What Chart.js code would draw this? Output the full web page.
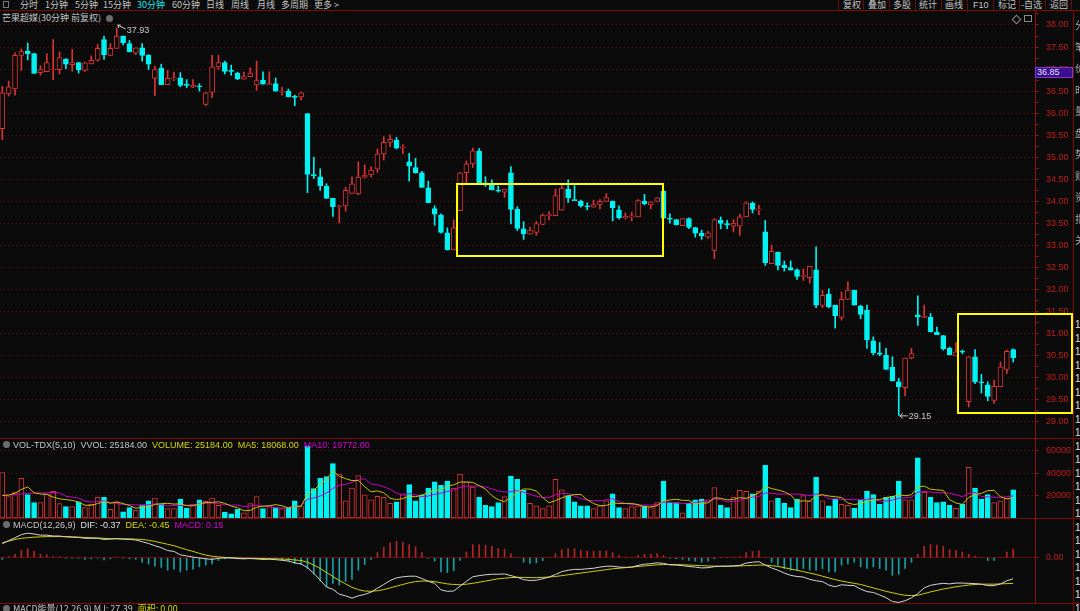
<!DOCTYPE html>
<html><head><meta charset="utf-8">
<script src="https://cdn.jsdelivr.net/npm/chart.js@4.4.0/dist/chart.umd.min.js"></script>
<style>
html,body{margin:0;padding:0;background:#0b0b0b;}
#root{position:relative;width:1080px;height:611px;overflow:hidden;background:#0b0b0b;font-family:"Noto Sans CJK SC","Liberation Sans",sans-serif;color:#c4c4c4;}
.t{position:absolute;white-space:nowrap;font-size:9px;line-height:10px;}
.n{font-family:"Liberation Sans",Arial,sans-serif;}
.lg span{margin-right:5px;}
.hl{position:absolute;left:0;width:1080px;height:1px;background:#7a0c0c;}
.vl{position:absolute;top:0;width:1px;height:10px;background:#6a0a0a;}
canvas{position:absolute;left:0;}
.box{position:absolute;border:2px solid #ffff00;box-sizing:border-box;}
.ic{position:absolute;width:7px;height:7px;border-radius:50%;background:#6e6e6e;}
</style></head><body><div id="root">

<!-- toolbar -->
<div class="t" style="left:3px;top:1px;width:6px;height:7px;border:1px solid #777;box-sizing:border-box;"></div>
<div class="t" style="left:20px;top:0">分时</div>
<div class="t" style="left:45px;top:0">1分钟</div>
<div class="t" style="left:75px;top:0">5分钟</div>
<div class="t" style="left:103px;top:0">15分钟</div>
<div class="t" style="left:137px;top:0;color:#19e6e6">30分钟</div>
<div class="t" style="left:172px;top:0">60分钟</div>
<div class="t" style="left:206px;top:0">日线</div>
<div class="t" style="left:231px;top:0">周线</div>
<div class="t" style="left:257px;top:0">月线</div>
<div class="t" style="left:281px;top:0">多周期</div>
<div class="t" style="left:314px;top:0">更多 &gt;</div>

<div class="vl" style="left:838px"></div><div class="vl" style="left:863px"></div><div class="vl" style="left:889px"></div>
<div class="vl" style="left:915px"></div><div class="vl" style="left:941px"></div><div class="vl" style="left:967px"></div>
<div class="vl" style="left:993px"></div><div class="vl" style="left:1019px"></div><div class="vl" style="left:1045px"></div><div class="vl" style="left:1071px"></div>
<div class="t" style="left:843px;top:0">复权</div>
<div class="t" style="left:868px;top:0">叠加</div>
<div class="t" style="left:893px;top:0">多股</div>
<div class="t" style="left:919px;top:0">统计</div>
<div class="t" style="left:945px;top:0">画线</div>
<div class="t n" style="left:973px;top:0">F10</div>
<div class="t" style="left:998px;top:0">标记</div>
<div class="t" style="left:1021px;top:0">-自选</div>
<div class="t" style="left:1050px;top:0">返回</div>
<div class="hl" style="top:10px"></div>

<!-- title -->
<div class="t" style="left:2px;top:13px">芒果超媒(30分钟 前复权)</div>
<div class="ic" style="left:106px;top:15px"></div>
<div class="t" style="left:1013px;top:16px;width:5px;height:5px;border:1px solid #8a8a8a;transform:rotate(45deg);"></div>
<div class="t" style="left:1024px;top:15px;width:8px;height:7px;border:1px solid #8a8a8a;box-sizing:border-box;"></div>

<canvas id="cMain" width="1073" height="428" style="top:10px"></canvas>
<canvas id="cVol" width="1073" height="80" style="top:438px"></canvas>
<canvas id="cMacd" width="1073" height="85" style="top:518px"></canvas>

<div class="hl" style="top:438px"></div>
<div class="hl" style="top:518px"></div>
<div class="hl" style="top:603px"></div>

<!-- current price tag -->
<div class="t n" style="left:1035px;top:67px;width:38px;height:11px;background:#3a1090;border:1px solid #7a3cc8;box-sizing:border-box;color:#e4dcff;line-height:9px;padding-left:1px;">36.85</div>

<!-- volume legend -->
<div class="ic" style="left:3px;top:441px"></div>
<div class="t n lg" style="left:13px;top:440px"><span>VOL-TDX(5,10)</span><span>VVOL: 25184.00</span><span style="color:#d8d800">VOLUME: 25184.00</span><span style="color:#d8d800">MA5: 18068.00</span><span style="color:#d800d8">MA10: 19772.00</span></div>

<!-- macd legend -->
<div class="ic" style="left:3px;top:521px"></div>
<div class="t n lg" style="left:13px;top:520px"><span>MACD(12,26,9)</span><span style="color:#e0e0e0">DIF: -0.37</span><span style="color:#d8d800">DEA: -0.45</span><span style="color:#d800d8">MACD: 0.15</span></div>

<div class="ic" style="left:3px;top:605px"></div>
<div class="t lg" style="left:13px;top:604px"><span>MACD能量(12,26,9) MJ: 27.39</span><span style="color:#d8d800">面积: 0.00</span></div>

<!-- right side strip -->
<div style="position:absolute;left:1073px;top:10px;width:1px;height:601px;background:#7a0c0c"></div>
<div class="t" style="left:1075px;top:14px;font-size:10px;line-height:21.5px;white-space:normal;width:12px;color:#a6a6a6">分笔价时量盘势财资指关</div>
<div class="t n" style="left:1075px;top:318px;font-size:10px;line-height:13.5px;white-space:normal;width:6px;color:#e0e0e0">1 1 1 1 1 1 1 1 1 1 1 1 1 1 1 1 1 1 1 1 1 1</div>

<!-- highlight boxes -->
<div class="box" style="left:456px;top:183px;width:208px;height:74px"></div>
<div class="box" style="left:957px;top:313px;width:116px;height:101px"></div>

</div>
<script>
// ---------------- data ----------------
const barNo = [...Array(160).keys()];
const open = [
35.65,36.44,36.55,37.31,37.41,37.35,36.92,36.94,36.98,36.99,
37.23,37.10,37.15,36.97,37.12,37.20,37.67,37.31,37.47,37.75,
37.58,37.36,37.48,37.31,36.79,37.02,36.65,36.78,36.80,36.64,
36.59,36.61,36.20,36.47,37.05,37.15,36.97,36.91,36.77,36.83,
36.64,36.75,36.65,36.67,36.48,36.50,36.37,36.37,35.99,34.61,
34.56,34.34,34.07,33.88,33.90,34.18,34.17,34.55,34.60,34.73,
35.08,35.34,35.39,35.21,34.90,34.77,34.65,34.31,33.84,33.69,
33.29,32.90,33.79,34.65,34.85,35.14,34.42,34.38,34.25,34.21,
34.65,33.82,33.38,33.26,33.30,33.48,33.68,33.68,33.80,34.28,
34.04,34.00,33.90,33.87,33.93,34.00,34.01,33.81,33.63,33.65,
33.65,34.01,33.92,34.00,34.23,33.62,33.59,33.45,33.61,33.41,
33.28,33.19,32.89,33.57,33.50,33.44,33.44,33.65,33.96,33.81,
33.31,32.59,32.85,32.55,32.50,32.45,32.30,32.27,32.45,31.64,
31.90,31.65,31.37,31.78,31.99,31.63,31.53,30.84,30.57,30.51,
30.24,29.91,29.78,30.45,31.43,31.37,31.37,31.03,30.96,30.67,
30.50,30.61,29.46,30.48,29.91,29.84,29.49,29.80,30.19,30.64];
const high = [
36.61,36.73,37.37,37.46,37.59,37.36,37.08,37.35,37.67,37.39,
37.24,37.45,37.15,37.16,37.30,37.56,37.75,37.58,37.93,37.75,
37.65,37.48,37.58,37.33,37.07,37.11,36.97,36.93,36.92,36.76,
36.76,36.67,36.48,37.31,37.31,37.18,37.09,36.93,36.93,37.03,
37.18,36.94,36.94,36.80,36.59,36.55,36.41,36.48,35.99,35.00,
34.74,34.40,34.07,33.91,34.32,34.56,34.90,34.83,34.79,35.19,
35.47,35.51,35.45,35.29,35.09,34.98,34.68,34.46,33.90,33.72,
33.40,33.58,34.66,34.92,35.21,35.20,34.56,34.49,34.35,34.28,
34.79,33.88,33.54,33.42,33.55,33.72,33.77,34.28,34.36,34.49,
34.36,34.03,33.97,34.03,34.04,34.18,34.01,33.90,33.74,33.76,
34.04,34.16,33.99,34.09,34.25,33.72,33.59,33.61,33.63,33.41,
33.35,33.32,33.61,33.65,33.57,33.59,33.71,33.99,33.99,33.91,
33.57,33.01,32.85,32.65,32.65,32.47,32.47,32.53,32.97,31.99,
32.02,31.65,31.95,32.18,31.99,31.65,31.65,30.93,30.80,30.67,
30.48,29.99,30.45,30.67,31.86,31.65,31.46,31.15,30.96,30.70,
30.80,30.63,30.48,30.64,30.08,29.91,29.95,30.36,30.63,30.66];
const low = [
35.40,36.39,36.41,36.97,37.21,36.90,36.86,36.94,36.76,36.89,
37.01,36.95,36.91,36.95,37.12,37.18,37.22,37.31,37.47,37.55,
37.39,37.33,37.18,36.99,36.40,36.65,36.65,36.74,36.60,36.58,
36.58,36.50,36.17,36.35,36.99,36.89,36.86,36.76,36.77,36.83,
36.52,36.66,36.65,36.50,36.41,36.37,36.17,36.30,34.20,34.52,
34.25,34.07,33.66,33.51,33.78,34.18,34.15,34.53,34.55,34.66,
34.94,35.24,35.19,35.08,34.46,34.64,34.32,33.97,33.46,33.28,
32.90,32.90,33.79,34.41,34.77,34.40,34.34,34.26,34.21,34.09,
33.49,33.34,33.14,33.26,33.23,33.47,33.58,33.68,33.80,33.98,
34.02,33.87,33.81,33.87,33.83,34.00,33.56,33.60,33.60,33.56,
33.65,33.92,33.83,34.00,33.62,33.51,33.47,33.45,33.38,33.19,
33.14,33.16,32.70,33.38,33.38,33.31,33.23,33.65,33.74,33.70,
32.55,32.59,32.45,32.42,32.44,32.23,32.21,32.15,31.59,31.59,
31.59,31.13,31.31,31.78,31.65,31.34,30.67,30.52,30.50,30.19,
29.93,29.15,29.59,30.43,31.19,31.37,31.04,30.98,30.63,30.52,
30.50,30.55,29.34,29.87,29.66,29.48,29.42,29.80,30.10,30.36];
const close = [
36.46,36.60,37.31,37.40,37.35,36.90,36.99,37.15,36.99,37.26,
37.11,37.15,36.99,37.14,37.20,37.47,37.33,37.47,37.75,37.60,
37.39,37.48,37.31,37.11,36.99,36.65,36.79,36.80,36.63,36.63,
36.64,36.60,36.46,37.05,37.15,36.95,36.95,36.78,36.83,36.91,
36.74,36.66,36.67,36.50,36.50,36.37,36.36,36.46,34.61,34.58,
34.36,34.07,33.88,33.90,34.25,34.40,34.55,34.60,34.71,35.08,
35.34,35.41,35.21,35.24,34.80,34.65,34.32,33.97,33.71,33.30,
32.90,33.40,34.65,34.85,35.15,34.42,34.38,34.26,34.23,34.28,
33.82,33.39,33.27,33.35,33.50,33.69,33.70,34.13,34.30,34.08,
34.02,33.90,33.88,33.93,34.00,34.09,33.86,33.63,33.66,33.67,
34.02,33.95,33.99,34.08,33.62,33.60,33.47,33.61,33.41,33.28,
33.22,33.29,33.59,33.50,33.47,33.51,33.65,33.97,33.82,33.83,
32.61,32.87,32.55,32.50,32.44,32.30,32.32,32.53,31.65,31.87,
31.61,31.41,31.78,31.99,31.65,31.44,30.86,30.57,30.53,30.19,
29.93,29.80,30.45,30.55,31.38,31.40,31.04,30.98,30.66,30.52,
30.59,30.58,30.48,29.91,29.89,29.58,29.81,30.25,30.60,30.46];
const volume = [
40600,19100,23100,35400,20900,13800,13800,21500,23700,12900,
10200,10200,14500,9200,12300,18500,18500,7700,14500,5500,
9200,6800,11700,15400,17800,12300,8300,8300,16900,8600,
12300,16300,14800,17800,11400,5200,3700,7700,4600,12900,
19100,8300,10200,9200,8300,9200,15400,10200,64000,26200,
35400,36900,48600,39100,15400,26800,37800,20600,16300,19400,
18500,13200,14500,21500,29800,15400,20600,26800,32300,29200,
32900,26800,39100,32300,27700,18500,11400,10200,13800,19100,
37500,34500,24600,13200,10800,8300,10800,34500,25200,20000,
14500,10800,10800,8300,10800,15400,21500,9200,8300,10200,
10800,10800,9200,13800,32900,13800,13800,4600,13200,16300,
16900,16300,27100,11400,9200,18500,24600,23700,21500,23700,
47100,15400,17500,13200,9200,16900,20000,15400,36300,15400,
10800,16900,12300,11400,8600,16000,24000,20900,12300,18500,
19400,32900,16300,16300,53800,23100,18500,13800,14500,11400,
8600,12300,45200,26800,16900,20900,13800,15400,17800,25184];
const volMA5 = [
20000,20500,22000,25500,27800,22500,21400,21100,18700,17100,
16400,15700,14300,11400,11300,12900,14600,13200,14300,12900,
11100,8700,9500,9700,12200,12800,13100,12400,12700,10900,
10900,12500,13800,14000,14500,13100,10600,9200,6500,6800,
9600,10500,11000,11900,11000,9000,10500,10500,21400,25000,
30200,34500,42200,37200,35100,33400,33500,27900,23400,24200,
22500,17600,16400,17400,19500,18900,20400,22800,25000,24900,
28400,29600,32100,32100,31800,28900,25800,20000,16300,14600,
18400,23000,25900,25800,24100,18300,13500,15500,17900,19800,
21000,21000,16300,12900,11000,11200,13400,13000,13000,12900,
12000,9900,9900,11000,15500,16100,16700,15800,15700,12300,
13000,13500,18000,17600,16200,16500,18200,17500,19500,22400,
28100,26300,25000,23400,20500,14400,15400,14900,19600,20800,
19600,19000,18300,13400,12000,13000,14500,16200,16400,18300,
19000,20800,19900,20700,27700,28500,25600,25100,24700,16300,
13400,12100,18400,20900,22000,24400,24700,18800,17000,18068];
const volMA10 = [
20500,20500,20800,21500,22000,22300,22300,22500,22800,22500,
19400,18600,17700,15100,14200,14700,15200,13800,12900,12100,
12000,11700,11400,12000,12600,11900,10900,11000,11200,11500,
11800,12800,13100,13300,12700,12000,11500,11500,10200,10700,
11400,10600,10100,9200,8900,9300,10500,10700,16700,18000,
19600,22500,26300,29300,30000,31800,34000,35100,30300,29600,
27900,25600,22200,20400,21800,20700,19000,19600,21200,22200,
23600,25000,27400,28500,28300,28600,27700,26000,24200,23200,
23600,24400,23000,21100,19400,18300,18300,20700,21900,21900,
19600,17300,15900,15400,15400,16100,17200,14700,13000,12000,
11600,11600,11500,12000,14200,14100,13300,12800,13300,13900,
14500,15100,16900,16600,14300,14700,15800,17700,18600,19300,
22300,22200,21300,21400,21400,21300,20800,20000,21500,20600,
17000,17200,16600,16500,16400,16300,16700,17300,14900,15200,
16000,17600,18000,18500,23000,23800,23200,22500,22700,22000,
20900,18900,21800,22800,19100,18900,18400,18600,18900,19772];
const macdDIF = [
0.245,0.30,0.35,0.405,0.43,0.415,0.395,0.395,0.38,0.38,
0.365,0.36,0.355,0.34,0.34,0.34,0.32,0.325,0.335,0.325,
0.32,0.31,0.28,0.25,0.21,0.175,0.125,0.11,0.05,0.03,
0.01,-0.005,-0.02,-0.03,-0.01,-0.005,-0.005,-0.015,-0.02,-0.015,
-0.022,-0.03,-0.028,-0.035,-0.045,-0.06,-0.09,-0.11,-0.175,-0.275,
-0.395,-0.515,-0.555,-0.64,-0.67,-0.71,-0.67,-0.645,-0.605,-0.535,
-0.47,-0.40,-0.355,-0.335,-0.325,-0.325,-0.365,-0.415,-0.45,-0.565,
-0.59,-0.585,-0.50,-0.415,-0.335,-0.315,-0.30,-0.29,-0.29,-0.285,
-0.315,-0.345,-0.385,-0.40,-0.395,-0.37,-0.34,-0.295,-0.245,-0.22,
-0.205,-0.205,-0.195,-0.185,-0.165,-0.15,-0.15,-0.165,-0.17,-0.165,
-0.135,-0.115,-0.105,-0.09,-0.10,-0.125,-0.13,-0.14,-0.155,-0.165,
-0.18,-0.175,-0.158,-0.15,-0.15,-0.143,-0.135,-0.095,-0.08,-0.07,
-0.13,-0.18,-0.22,-0.27,-0.31,-0.33,-0.34,-0.38,-0.405,-0.42,
-0.48,-0.51,-0.475,-0.485,-0.49,-0.55,-0.595,-0.61,-0.655,-0.70,
-0.77,-0.785,-0.755,-0.705,-0.63,-0.53,-0.485,-0.465,-0.45,-0.46,
-0.445,-0.445,-0.45,-0.455,-0.465,-0.49,-0.49,-0.46,-0.405,-0.37];
const macdDEA = [
0.26,0.29,0.32,0.34,0.35,0.36,0.365,0.37,0.37,0.37,
0.37,0.365,0.36,0.355,0.35,0.345,0.34,0.335,0.33,0.33,
0.33,0.325,0.32,0.305,0.285,0.26,0.235,0.21,0.175,0.14,
0.11,0.075,0.045,0.025,0.015,0.005,0.0,-0.005,-0.01,-0.01,
-0.012,-0.015,-0.018,-0.02,-0.025,-0.03,-0.04,-0.05,-0.08,-0.13,
-0.19,-0.26,-0.33,-0.40,-0.46,-0.52,-0.56,-0.585,-0.59,-0.58,
-0.56,-0.53,-0.50,-0.47,-0.44,-0.42,-0.41,-0.41,-0.42,-0.44,
-0.46,-0.47,-0.475,-0.465,-0.45,-0.43,-0.41,-0.39,-0.37,-0.36,
-0.35,-0.345,-0.345,-0.35,-0.35,-0.345,-0.34,-0.33,-0.315,-0.30,
-0.285,-0.27,-0.255,-0.24,-0.225,-0.21,-0.195,-0.185,-0.175,-0.165,
-0.155,-0.145,-0.135,-0.125,-0.12,-0.12,-0.12,-0.125,-0.13,-0.135,
-0.14,-0.145,-0.148,-0.15,-0.15,-0.148,-0.145,-0.14,-0.135,-0.13,
-0.13,-0.14,-0.155,-0.175,-0.20,-0.22,-0.245,-0.27,-0.295,-0.325,
-0.355,-0.385,-0.41,-0.43,-0.45,-0.47,-0.50,-0.53,-0.56,-0.59,
-0.615,-0.64,-0.66,-0.665,-0.66,-0.63,-0.60,-0.575,-0.55,-0.53,
-0.51,-0.495,-0.48,-0.47,-0.465,-0.465,-0.465,-0.46,-0.455,-0.45];
const macdHist = [
-0.03,0.02,0.06,0.13,0.16,0.11,0.06,0.05,0.02,0.02,
-0.01,-0.01,-0.01,-0.03,-0.02,-0.01,-0.04,-0.02,0.01,-0.01,
-0.02,-0.03,-0.08,-0.11,-0.15,-0.17,-0.22,-0.20,-0.25,-0.22,
-0.20,-0.16,-0.13,-0.11,-0.05,-0.02,-0.01,-0.02,-0.02,-0.01,
-0.02,-0.03,-0.02,-0.03,-0.04,-0.06,-0.10,-0.12,-0.19,-0.29,
-0.41,-0.51,-0.45,-0.48,-0.42,-0.38,-0.22,-0.12,-0.03,0.09,
0.18,0.26,0.29,0.27,0.23,0.19,0.09,-0.01,-0.06,-0.25,
-0.26,-0.23,-0.05,0.10,0.23,0.23,0.22,0.20,0.16,0.15,
0.07,0.0,-0.08,-0.10,-0.09,-0.05,0.0,0.07,0.14,0.16,
0.16,0.13,0.12,0.11,0.12,0.12,0.09,0.04,0.01,0.0,
0.04,0.06,0.06,0.07,0.04,-0.01,-0.02,-0.03,-0.05,-0.06,
-0.08,-0.06,-0.02,0.0,0.0,0.01,0.02,0.09,0.11,0.12,
0.0,-0.08,-0.13,-0.19,-0.22,-0.22,-0.19,-0.22,-0.22,-0.19,
-0.25,-0.25,-0.13,-0.11,-0.08,-0.16,-0.19,-0.16,-0.19,-0.22,
-0.31,-0.29,-0.19,-0.08,0.06,0.20,0.23,0.22,0.20,0.14,
0.13,0.10,0.06,0.03,0.0,-0.05,-0.05,0.0,0.10,0.15];
const priceTicks = [29.00,29.50,30.00,30.50,31.00,31.50,32.00,32.50,33.00,33.50,34.00,34.50,35.00,35.50,36.00,36.50,37.00,37.50,38.00];
const volTicks = [20000,40000,60000];
const macdTicks = [0];

// ---------------- style ----------------
const RED = '#d83434', CYAN = '#00f2f2', BG = '#0b0b0b';
const GRID_C = '#640a0a', AXIS_C = '#8c1212', LABEL_C = '#c41c1c';
const NUMFONT = '"Liberation Sans", Arial, sans-serif';
const X_MIN = -0.362, X_MAX = 162.43;
const up = close.map((c, i) => c >= open[i]);

function xAxis() {
  return { type: 'linear', min: X_MIN, max: X_MAX, offset: false, display: false,
           grid: { offset: false }, ticks: { includeBounds: true } };
}
function rightAxis(min, max, ticks, fmt, dash, withMinor) {
  return {
    position: 'right', min, max,
    afterBuildTicks: s => {
      const arr = [];
      ticks.forEach(v => {
        arr.push({ value: v });
        if (withMinor && v + 0.25 < max) arr.push({ value: v + 0.25, minor: true });
      });
      s.ticks = arr;
    },
    afterFit: s => { s.width = 38; s.paddingTop = 0; s.paddingBottom = 0; },
    grid: {
      color: c => (c.tick && c.tick.minor) ? 'rgba(0,0,0,0)' : GRID_C,
      lineWidth: 1, drawTicks: true, tickLength: 4, tickColor: AXIS_C, tickWidth: 1
    },
    border: { display: true, color: AXIS_C, width: 1, dash: dash },
    ticks: {
      color: LABEL_C, font: { family: NUMFONT, size: 9 }, padding: 7, autoSkip: false, maxRotation: 0,
      callback: (v, i, arr) => (arr[i] && arr[i].minor) ? '' : fmt(v)
    }
  };
}
const baseOpts = {
  responsive: false, animation: false, events: [],
  layout: { padding: 0 },
  plugins: { legend: { display: false }, tooltip: { enabled: false } }
};

// peak / trough labels
const peakPlugin = {
  id: 'peaks',
  afterDatasetsDraw(chart) {
    const { ctx, scales: { x, y } } = chart;
    const hi = Math.max(...high), hiIdx = high.indexOf(hi);
    const lo = Math.min(...low), loIdx = low.indexOf(lo);
    ctx.save();
    ctx.strokeStyle = '#c8c8c8'; ctx.fillStyle = '#c8c8c8'; ctx.lineWidth = 1;
    ctx.font = '9px ' + NUMFONT; ctx.textBaseline = 'middle';
    let px = x.getPixelForValue(hiIdx), py = y.getPixelForValue(hi);
    ctx.beginPath(); ctx.moveTo(px + 1, py - 3); ctx.lineTo(px + 9, py + 1); ctx.stroke();
    ctx.beginPath(); ctx.moveTo(px + 1, py - 3); ctx.lineTo(px + 4, py - 3); ctx.moveTo(px + 1, py - 3); ctx.lineTo(px + 2, py); ctx.stroke();
    ctx.fillText(hi.toFixed(2), px + 10, py + 2);
    px = x.getPixelForValue(loIdx); py = y.getPixelForValue(lo);
    ctx.beginPath(); ctx.moveTo(px + 1, py + 0.5); ctx.lineTo(px + 9, py + 0.5); ctx.stroke();
    ctx.beginPath(); ctx.moveTo(px + 1, py + 0.5); ctx.lineTo(px + 4, py - 2); ctx.moveTo(px + 1, py + 0.5); ctx.lineTo(px + 4, py + 3); ctx.stroke();
    ctx.fillText(lo.toFixed(2), px + 10, py + 1);
    ctx.restore();
  }
};

// ---------------- main candles ----------------
new Chart(document.getElementById('cMain'), {
  type: 'bar',
  data: {
    datasets: [
      {
        data: barNo.map(i => ({ x: i, y: [low[i], high[i]] })),
        backgroundColor: up.map(u => u ? RED : CYAN),
        borderWidth: 0, barThickness: 1, grouped: false, order: 2
      },
      {
        data: barNo.map(i => ({ x: i, y: [Math.min(open[i], close[i]), Math.max(open[i], close[i])] })),
        backgroundColor: up.map(u => u ? BG : CYAN),
        borderColor: up.map(u => u ? RED : CYAN),
        borderWidth: 1, borderSkipped: false, barThickness: 5, minBarLength: 1, grouped: false, order: 1
      }
    ]
  },
  options: Object.assign({}, baseOpts, {
    scales: {
      x: xAxis(),
      y: rightAxis(28.637, 38.340, priceTicks, v => v.toFixed(2), [1, 3], true)
    }
  }),
  plugins: [peakPlugin]
});

// ---------------- volume ----------------
new Chart(document.getElementById('cVol'), {
  type: 'bar',
  data: {
    datasets: [
      {
        type: 'line', data: barNo.map(i => ({ x: i, y: volMA5[i] })),
        borderColor: '#c4c400', borderWidth: 1, pointRadius: 0, tension: 0, order: 1
      },
      {
        type: 'line', data: barNo.map(i => ({ x: i, y: volMA10[i] })),
        borderColor: '#c800c8', borderWidth: 1, pointRadius: 0, tension: 0, order: 2
      },
      {
        data: barNo.map(i => ({ x: i, y: volume[i] })),
        backgroundColor: up.map(u => u ? BG : CYAN),
        borderColor: up.map(u => u ? RED : CYAN),
        borderWidth: 1, borderSkipped: false, barThickness: 5, grouped: false, order: 3
      }
    ]
  },
  options: Object.assign({}, baseOpts, {
    scales: {
      x: xAxis(),
      y: rightAxis(0, 71400, volTicks, v => String(v), [1, 3], false)
    }
  })
});

// ---------------- MACD ----------------
new Chart(document.getElementById('cMacd'), {
  type: 'bar',
  data: {
    datasets: [
      {
        type: 'line', data: barNo.map(i => ({ x: i, y: macdDIF[i] })),
        borderColor: '#d4d4d4', borderWidth: 1, pointRadius: 0, tension: 0, order: 1
      },
      {
        type: 'line', data: barNo.map(i => ({ x: i, y: macdDEA[i] })),
        borderColor: '#d0d000', borderWidth: 1, pointRadius: 0, tension: 0, order: 2
      },
      {
        data: barNo.map(i => ({ x: i, y: macdHist[i] })),
        backgroundColor: macdHist.map(v => v >= 0 ? '#b42626' : '#1a9ea6'),
        borderWidth: 0, barThickness: 1, grouped: false, order: 3
      }
    ]
  },
  options: Object.assign({}, baseOpts, {
    scales: {
      x: xAxis(),
      y: rightAxis(-0.795, 0.696, macdTicks, v => v.toFixed(2), [], false)
    }
  })
});
</script>
</body></html>
